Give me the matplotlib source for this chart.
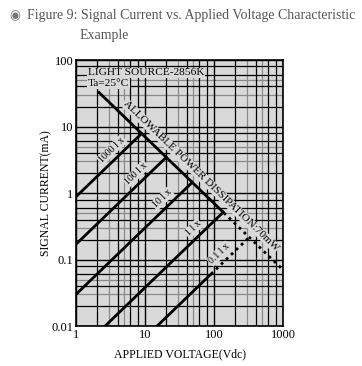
import matplotlib
matplotlib.use("Agg")
import matplotlib.pyplot as plt
import numpy as np
from matplotlib.ticker import FixedLocator, LogLocator, NullFormatter

# light-level lines: signal current (mA) at 1 V, slope 1 on log-log axes
LUX_LABELS = ["1000 l x", "100 l x", "10 l x", "1 l x", "0.1 l x"]
LUX_I_AT_1V = [0.88, 0.17, 0.03, 0.0038, 0.00067]
LUX_DOT_FROM = [None, None, None, None, 88]   # volts where line turns dotted
POWER_MW = 70
POWER_DOT_FROM = 135
X_TICKS = [1, 10, 100, 1000]
X_LABELS = ["1", "10", "100", "1000"]
Y_TICKS = [0.01, 0.1, 1, 10, 100]
Y_LABELS = ["0.01", "0.1", "1", "10", "100"]

BG = "#d9d9d9"
plt.rcParams["font.family"] = ["Liberation Serif", "DejaVu Serif"]

fig = plt.figure(figsize=(3.62, 3.66), dpi=100)
ax = fig.add_axes([0.21, 0.109, 0.572, 0.727])
ax.set_xscale("log")
ax.set_yscale("log")
ax.set_xlim(1, 1000)
ax.set_ylim(0.01, 100)
ax.set_facecolor(BG)

ax.xaxis.set_major_locator(FixedLocator(X_TICKS))
ax.set_xticklabels(X_LABELS)
ax.yaxis.set_major_locator(FixedLocator(Y_TICKS))
ax.set_yticklabels(Y_LABELS)
ax.xaxis.set_minor_locator(LogLocator(base=10, subs=[2, 4, 6, 8]))
ax.yaxis.set_minor_locator(LogLocator(base=10, subs=[2, 4, 6, 8]))
ax.xaxis.set_minor_formatter(NullFormatter())
ax.yaxis.set_minor_formatter(NullFormatter())
ax.tick_params(which="both", length=0, labelsize=9, pad=2)
ax.grid(which="major", color="black", lw=1.0)
ax.grid(which="minor", color="black", lw=0.9)
# fainter secondary rulings
for d in [1, 10, 100]:
    for s in [3, 5]:
        ax.axvline(d * s, color="#8a8a8a", lw=0.9, zorder=0.5)
for d in [0.01, 0.1, 1, 10]:
    for s in [3, 5]:
        ax.axhline(d * s, color="#8a8a8a", lw=0.9, zorder=0.5)
for s in ax.spines.values():
    s.set_linewidth(1.2)

box = dict(facecolor=BG, edgecolor="none", pad=0.6)

# allowable power dissipation line
v = np.logspace(np.log10(2.15), 3, 200)
i = POWER_MW / v
ax.plot(v[v <= POWER_DOT_FROM], i[v <= POWER_DOT_FROM], color="black", lw=2,
        zorder=5)
ax.plot(v[v >= POWER_DOT_FROM], i[v >= POWER_DOT_FROM], color="black", lw=2,
        ls=(0, (1, 1.5)), zorder=5)
ax.annotate("ALLOWABLE POWER DISSIPATION:70mW", (3.9, POWER_MW / 3.9),
            xytext=(3.2, 3.2), textcoords="offset points", rotation=-44,
            rotation_mode="anchor", ha="left", va="bottom", fontsize=8,
            bbox=box, zorder=4)

for label, k, dot in zip(LUX_LABELS, LUX_I_AT_1V, LUX_DOT_FROM):
    v_end = np.sqrt(POWER_MW / k)
    v_start = max(1.0, 0.01 / k)
    v = np.logspace(np.log10(v_start), np.log10(v_end), 100)
    i = k * v
    if dot is None:
        ax.plot(v, i, color="black", lw=2, zorder=5)
    else:
        ax.plot(v[v <= dot], i[v <= dot], color="black", lw=2, zorder=5)
        ax.plot(v[v >= dot], i[v >= dot], color="black", lw=2,
                ls=(0, (1, 1.5)), zorder=5)
    vt = v_end / 2.2
    ax.annotate(label, (vt, k * vt), xytext=(-2.3, 2.3), textcoords="offset points",
                rotation=44, rotation_mode="anchor", ha="center", va="bottom",
                fontsize=7, bbox=box, zorder=4)

ax.text(1.47, 64, "LIGHT SOURCE-2856K", fontsize=8.2, va="center", bbox=box)
ax.text(1.47, 44, "Ta=25\u00b0C", fontsize=8.2, va="center", bbox=box)

ax.set_xlabel("APPLIED VOLTAGE(Vdc)", fontsize=8.5, labelpad=5)
ax.set_ylabel("SIGNAL CURRENT(mA)", fontsize=8.5, labelpad=-1)

fig.text(0.027, 0.957, "\u25c9", fontsize=9, color="#777777", va="center",
         family=["DejaVu Sans"])
fig.text(0.075, 0.957, "Figure 9: Signal Current vs. Applied Voltage Characteristic",
         fontsize=10, color="#555555", va="center")
fig.text(0.22, 0.903, "Example", fontsize=10, color="#555555", va="center")

fig.savefig("out.png", dpi=100)
